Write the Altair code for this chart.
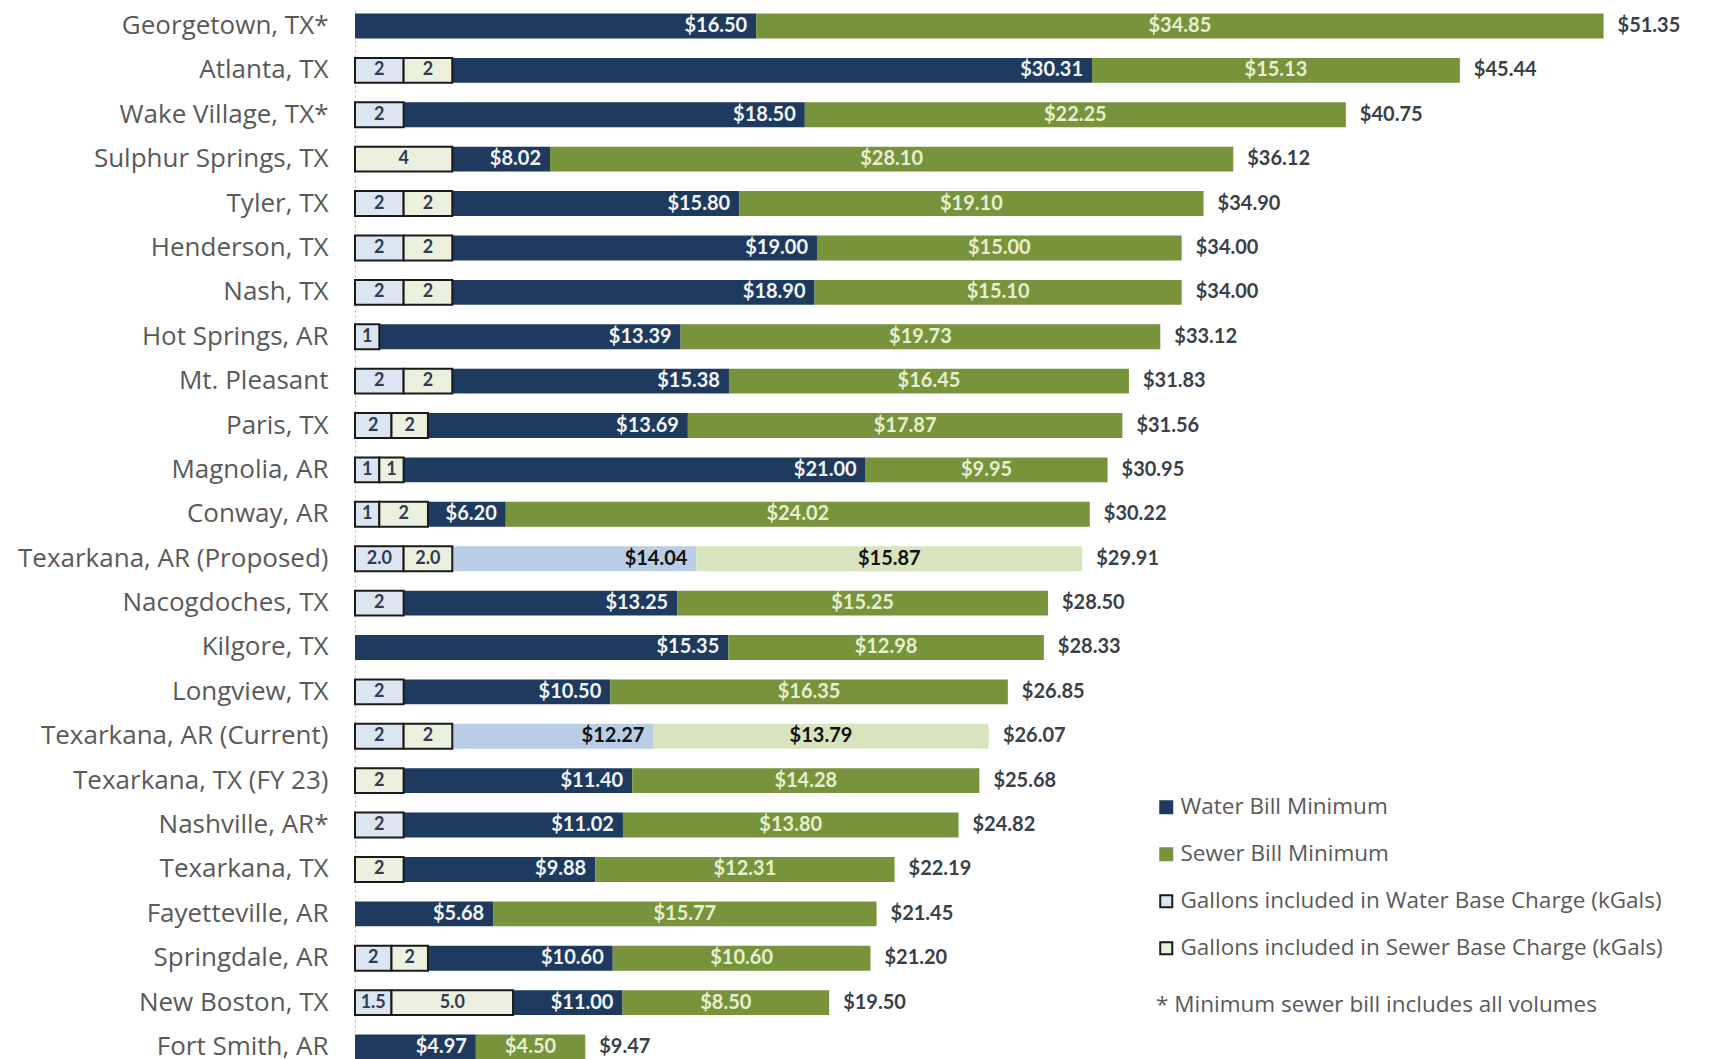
import altair as alt
import pandas as pd

cities = ["Georgetown, TX*", "Atlanta, TX", "Wake Village, TX*", "Sulphur Springs, TX", "Tyler, TX",
          "Henderson, TX", "Nash, TX", "Hot Springs, AR", "Mt. Pleasant", "Paris, TX", "Magnolia, AR",
          "Conway, AR", "Texarkana, AR (Proposed)", "Nacogdoches, TX", "Kilgore, TX", "Longview, TX",
          "Texarkana, AR (Current)", "Texarkana, TX (FY 23)", "Nashville, AR*", "Texarkana, TX",
          "Fayetteville, AR", "Springdale, AR", "New Boston, TX", "Fort Smith, AR"]
water_bill = [16.50, 30.31, 18.50, 8.02, 15.80, 19.00, 18.90, 13.39, 15.38, 13.69, 21.00, 6.20,
              14.04, 13.25, 15.35, 10.50, 12.27, 11.40, 11.02, 9.88, 5.68, 10.60, 11.00, 4.97]
sewer_bill = [34.85, 15.13, 22.25, 28.10, 19.10, 15.00, 15.10, 19.73, 16.45, 17.87, 9.95, 24.02,
              15.87, 15.25, 12.98, 16.35, 13.79, 14.28, 13.80, 12.31, 15.77, 10.60, 8.50, 4.50]
total_bill = [51.35, 45.44, 40.75, 36.12, 34.90, 34.00, 34.00, 33.12, 31.83, 31.56, 30.95, 30.22,
              29.91, 28.50, 28.33, 26.85, 26.07, 25.68, 24.82, 22.19, 21.45, 21.20, 19.50, 9.47]
water_kgal = [0, 2, 2, 0, 2, 2, 2, 1, 2, 1.5, 1, 1, 2, 2, 0, 2, 2, 0, 2, 0, 0, 1.5, 1.5, 0]
sewer_kgal = [0, 2, 0, 4, 2, 2, 2, 0, 2, 1.5, 1, 2, 2, 0, 0, 0, 2, 2, 0, 2, 0, 1.5, 5.0, 0]
water_kgal_text = ["", "2", "2", "", "2", "2", "2", "1", "2", "2", "1", "1", "2.0", "2", "", "2",
                   "2", "", "2", "", "", "2", "1.5", ""]
sewer_kgal_text = ["", "2", "", "4", "2", "2", "2", "", "2", "2", "1", "2", "2.0", "", "", "",
                   "2", "2", "", "2", "", "2", "5.0", ""]
highlight_rows = ["Texarkana, AR (Proposed)", "Texarkana, AR (Current)"]

S_W = "Water Bill Minimum"
S_S = "Sewer Bill Minimum"
S_WG = "Gallons included in Water Base Charge (kGals)"
S_SG = "Gallons included in Sewer Base Charge (kGals)"
S_WL = "Water Bill Minimum (Texarkana, AR)"
S_SL = "Sewer Bill Minimum (Texarkana, AR)"
series_domain = [S_W, S_S, S_WG, S_SG, S_WL, S_SL]
fill_range = ["#1F3A5F", "#77933C", "#DCE6F2", "#EBF1DE", "#B9CDE5", "#D7E4BD"]
stroke_range = ["#1F3A5F", "#77933C", "#1a1a1a", "#1a1a1a", "#B9CDE5", "#D7E4BD"]
footnote = "* Minimum sewer bill includes all volumes"

FONT = "Lato"
LABEL_FONT = "Open Sans"

seg_rows, box_rows, lab_rows = [], [], []
for i, c in enumerate(cities):
    hl = c in highlight_rows
    w, s, t = water_bill[i], sewer_bill[i], total_bill[i]
    seg_rows.append({"city": c, "start": 0, "end": w, "series": S_WL if hl else S_W})
    seg_rows.append({"city": c, "start": w, "end": w + s, "series": S_SL if hl else S_S})
    lab_rows.append({"city": c, "water": w, "sewer": s, "total": t, "smid": w + s / 2,
                     "hl": hl})
    wk, sk = water_kgal[i], sewer_kgal[i]
    if wk > 0:
        box_rows.append({"city": c, "start": 0, "end": wk, "mid": wk / 2,
                         "label": water_kgal_text[i], "series": S_WG})
    if sk > 0:
        box_rows.append({"city": c, "start": wk, "end": wk + sk, "mid": wk + sk / 2,
                         "label": sewer_kgal_text[i], "series": S_SG})

seg_df = pd.DataFrame(seg_rows)
box_df = pd.DataFrame(box_rows)
lab_df = pd.DataFrame(lab_rows)

xscale = alt.Scale(domain=[0, 54], nice=False, zero=True)
Y = alt.Y("city:N", sort=cities, title=None,
          scale=alt.Scale(paddingInner=0.44, paddingOuter=0.08),
          axis=alt.Axis(labelFont=LABEL_FONT, labelFontSize=26, labelColor="#595959", ticks=False,
                        labelPadding=27, domainColor="#bdbdbd", domainDash=[2, 3], domainWidth=1,
                        minExtent=347, maxExtent=347, labelLimit=400, grid=False))

leg = alt.Legend(values=[S_W, S_S, S_WG, S_SG], title=None, orient="none",
                 legendX=800, legendY=786, symbolType="square", symbolSize=144,
                 symbolStrokeWidth=2, labelFont=LABEL_FONT, labelFontSize=22.5, labelColor="#595959",
                 labelOffset=3, rowPadding=24, padding=0, labelLimit=600)
color_enc = alt.Color("series:N", scale=alt.Scale(domain=series_domain, range=fill_range), legend=leg)
stroke_enc = alt.Stroke("series:N", scale=alt.Scale(domain=series_domain, range=stroke_range), legend=leg)

bars = alt.Chart(seg_df).mark_bar(strokeWidth=0).encode(
    y=Y, x=alt.X("start:Q", scale=xscale, axis=None), x2="end:Q",
    color=color_enc, stroke=stroke_enc)

boxes = alt.Chart(box_df).mark_bar(strokeWidth=2).encode(
    y=Y, x=alt.X("start:Q", scale=xscale, axis=None), x2="end:Q",
    color=color_enc, stroke=stroke_enc)

box_text = alt.Chart(box_df).mark_text(font=FONT, fontSize=18, fontWeight="bold",
                                       color="#2F3B52", baseline="middle").encode(
    y=Y, x=alt.X("mid:Q", scale=xscale, axis=None), text="label:N")

water_text = alt.Chart(lab_df).mark_text(font=FONT, fontSize=20, fontWeight="bold", align="right",
                                         dx=-9, baseline="middle").encode(
    y=Y, x=alt.X("water:Q", scale=xscale, axis=None),
    text=alt.Text("water:Q", format="$.2f"),
    color=alt.condition("datum.hl", alt.value("#111111"), alt.value("#F2F5F8")))

sewer_text = alt.Chart(lab_df).mark_text(font=FONT, fontSize=20, fontWeight="bold", align="center",
                                         baseline="middle").encode(
    y=Y, x=alt.X("smid:Q", scale=xscale, axis=None),
    text=alt.Text("sewer:Q", format="$.2f"),
    color=alt.condition("datum.hl", alt.value("#111111"), alt.value("#E6EFCF")))

total_text = alt.Chart(lab_df).mark_text(font=FONT, fontSize=20, fontWeight="bold", align="left",
                                         dx=14, baseline="middle", color="#3A3F48").encode(
    y=Y, x=alt.X("total:Q", scale=xscale, axis=None),
    text=alt.Text("total:Q", format="$.2f"))

note = alt.Chart(pd.DataFrame({"t": [footnote]})).mark_text(
    font=LABEL_FONT, fontSize=22.5, color="#595959", align="left", baseline="middle").encode(
    x=alt.value(801), y=alt.value(995), text="t:N")

chart = alt.layer(bars, boxes, box_text, water_text, sewer_text, total_text, note).properties(
    width=1313, height=1053,
    padding={"left": 0, "top": 2, "right": 0, "bottom": 0}
).configure(background="#ffffff").configure_view(stroke=None)

chart.save("out.html", embed_options={"renderer": "svg", "actions": False})
